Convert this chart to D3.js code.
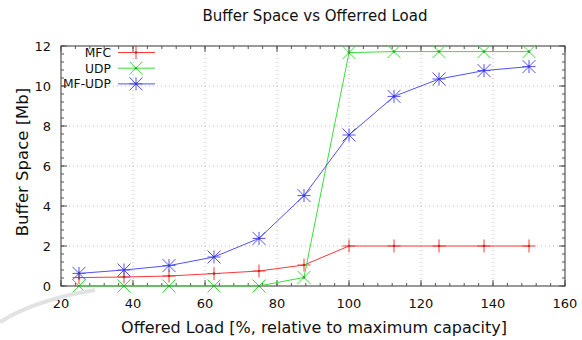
<!DOCTYPE html>
<html>
<head>
<meta charset="utf-8">
<script src="https://cdn.jsdelivr.net/npm/d3@7"></script>
<style>
  body { margin: 0; background: #fff; }
  text { font-family: "DejaVu Sans", sans-serif; fill: #111; }
</style>
</head>
<body>
<svg id="chart" width="582" height="340"></svg>
<script>
// data
var loads = [25, 37.5, 50, 62.5, 75, 87.5, 100, 112.5, 125, 137.5, 150];
var mfc = [0.42, 0.45, 0.5, 0.62, 0.75, 1.05, 2.0, 2.0, 2.0, 2.0, 2.0];
var udp = [0, 0, 0, 0, 0, 0.43, 11.67, 11.72, 11.72, 11.72, 11.72];
var mfudp = [0.63, 0.8, 1.02, 1.45, 2.38, 4.52, 7.55, 9.48, 10.35, 10.77, 10.97];
var xTicks = [20, 40, 60, 80, 100, 120, 140, 160];
var yTicks = [0, 2, 4, 6, 8, 10, 12];
var seriesNames = ["MFC", "UDP", "MF-UDP"];

var svg = d3.select("#chart");
var margin = { top: 46, right: 17, bottom: 54, left: 61 };
var width = 582 - margin.left - margin.right;
var height = 340 - margin.top - margin.bottom;

var x = d3.scaleLinear().domain([20, 160]).range([0, width]);
var y = d3.scaleLinear().domain([0, 12]).range([height, 0]);

var g = svg.append("g")
    .attr("transform", "translate(" + margin.left + "," + margin.top + ")");

// faint watermark arc bottom-left
svg.append("path")
    .attr("d", "M 0 322 Q 35 300 95 290")
    .attr("fill", "none")
    .attr("stroke", "#e2e2e2")
    .attr("stroke-width", 4);

// grid
g.selectAll(".gx").data(xTicks.slice(1, -1)).enter().append("line")
    .attr("x1", function (d) { return x(d); }).attr("x2", function (d) { return x(d); })
    .attr("y1", 0).attr("y2", height)
    .attr("stroke", "#bbb").attr("stroke-dasharray", "1,3");
g.selectAll(".gy").data(yTicks.slice(1, -1)).enter().append("line")
    .attr("y1", function (d) { return y(d); }).attr("y2", function (d) { return y(d); })
    .attr("x1", 0).attr("x2", width)
    .attr("stroke", "#bbb").attr("stroke-dasharray", "1,3");

// minor + major ticks, inward on all sides
var xMinor = d3.range(20, 160.01, 4);
var yMinor = d3.range(0, 12.01, 0.4);
function tickSet(vals, len, horiz) {
    vals.forEach(function (v) {
        if (horiz) {
            g.append("line").attr("x1", x(v)).attr("x2", x(v)).attr("y1", height).attr("y2", height - len).attr("stroke", "#555");
            g.append("line").attr("x1", x(v)).attr("x2", x(v)).attr("y1", 0).attr("y2", len).attr("stroke", "#555");
        } else {
            g.append("line").attr("y1", y(v)).attr("y2", y(v)).attr("x1", 0).attr("x2", len).attr("stroke", "#555");
            g.append("line").attr("y1", y(v)).attr("y2", y(v)).attr("x1", width).attr("x2", width - len).attr("stroke", "#555");
        }
    });
}
tickSet(xMinor, 3, true);
tickSet(xTicks, 6, true);
tickSet(yMinor, 3, false);
tickSet(yTicks, 6, false);

// border
g.append("rect").attr("width", width).attr("height", height)
    .attr("fill", "none").attr("stroke", "#555").attr("stroke-width", 1.2);

// tick labels
g.selectAll(".xl").data(xTicks).enter().append("text")
    .attr("x", function (d) { return x(d); })
    .attr("y", height + 22)
    .attr("text-anchor", "middle")
    .style("font-size", "13px")
    .text(function (d) { return d; });
g.selectAll(".yl").data(yTicks).enter().append("text")
    .attr("x", -10)
    .attr("y", function (d) { return y(d) + 5; })
    .attr("text-anchor", "end")
    .style("font-size", "13px")
    .text(function (d) { return d; });

// series
var series = [
    { name: seriesNames[0], vals: mfc, color: "#ff3838", mark: "plus" },
    { name: seriesNames[1], vals: udp, color: "#38e038", mark: "cross" },
    { name: seriesNames[2], vals: mfudp, color: "#5050ff", mark: "star" }
];

var line = d3.line()
    .x(function (d) { return x(d[0]); })
    .y(function (d) { return y(d[1]); });

function marker(sel, type, color) {
    var s = 6.5;
    var p = "";
    if (type === "plus" || type === "star") p += "M0," + (-s) + "V" + s + "M" + (-s) + ",0H" + s;
    if (type === "cross" || type === "star") p += "M" + (-s) + "," + (-s) + "L" + s + "," + s + "M" + (-s) + "," + s + "L" + s + "," + (-s);
    sel.append("path").attr("d", p).attr("stroke", color).attr("stroke-width", 1).attr("fill", "none");
    sel.append("circle").attr("r", 1.3).attr("fill", d3.color(color).darker(0.8));
}

series.forEach(function (s) {
    var pts = loads.map(function (l, i) { return [l, s.vals[i]]; });
    g.append("path").datum(pts)
        .attr("d", line)
        .attr("fill", "none")
        .attr("stroke", s.color)
        .attr("stroke-width", 1);
    pts.forEach(function (p) {
        var m = g.append("g").attr("transform", "translate(" + x(p[0]) + "," + y(p[1]) + ")");
        marker(m, s.mark, s.color);
    });
});

// legend
var legend = svg.append("g");
series.forEach(function (s, i) {
    var ly = 52.5 + i * 15.7;
    legend.append("text").attr("x", 111).attr("y", ly + 4.5)
        .attr("text-anchor", "end").style("font-size", "12.3px").text(s.name);
    legend.append("line").attr("x1", 118).attr("x2", 155).attr("y1", ly).attr("y2", ly)
        .attr("stroke", s.color).attr("stroke-width", 1);
    marker(legend.append("g").attr("transform", "translate(136," + ly + ")"), s.mark, s.color);
});

// title and axis labels
svg.append("text")
    .attr("x", 315).attr("y", 21)
    .attr("text-anchor", "middle")
    .style("font-size", "15px")
    .text("Buffer Space vs Offerred Load");
svg.append("text")
    .attr("x", margin.left + width / 2 + 1).attr("y", 333)
    .attr("text-anchor", "middle")
    .style("font-size", "16px")
    .text("Offered Load [%, relative to maximum capacity]");
svg.append("text")
    .attr("transform", "translate(28," + (margin.top + height / 2 - 4) + ") rotate(-90)")
    .attr("text-anchor", "middle")
    .style("font-size", "16.5px")
    .text("Buffer Space [Mb]");
</script>
</body>
</html>
